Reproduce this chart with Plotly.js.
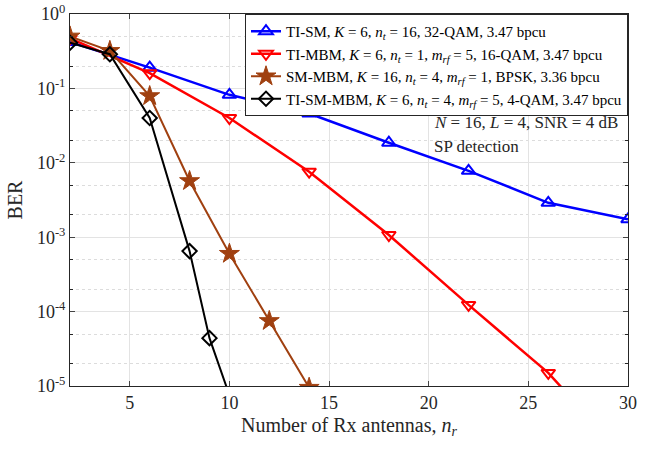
<!DOCTYPE html>
<html>
<head>
<meta charset="utf-8">
<script src="https://cdn.plot.ly/plotly-3.0.1.min.js"></script>
<style>html,body{margin:0;padding:0;background:#fff;}#chart{width:659px;height:449px;}
#chart text{font-family:"Liberation Serif",serif !important;}</style>
</head>
<body>
<div id="chart"></div>
<script>
// Data
const xTISM = [2, 6, 10, 14, 18, 22, 26, 30];
const berTISM = [0.42, 0.19, 0.082, 0.046, 0.0186, 0.0078, 0.0029, 0.00174];

const xTIMBM = [2, 6, 10, 14, 18, 22, 26, 30];
const berTIMBM = [0.47, 0.16, 0.040, 0.0076, 0.00107, 0.000123, 0.000015, 0.000001];

const xSMMBM = [2, 4, 6, 8, 10, 12, 14];
const berSMMBM = [0.50, 0.32, 0.079, 0.0057, 0.0006, 0.000075, 0.0000095];

const xTISMMBM = [2, 4, 6, 8, 9, 10];
const berTISMMBM = [0.41, 0.288, 0.040, 0.00065, 0.000044, 0.0000075];

const names = [
  "TI-SM, <i>K</i> = 6, <i>n</i><sub><i>t</i></sub> = 16, 32-QAM, 3.47 bpcu",
  "TI-MBM, <i>K</i> = 6, <i>n</i><sub><i>t</i></sub> = 1, <i>m</i><sub><i>rf</i></sub> = 5, 16-QAM, 3.47 bpcu",
  "SM-MBM, <i>K</i> = 16, <i>n</i><sub><i>t</i></sub> = 4, <i>m</i><sub><i>rf</i></sub> = 1, BPSK, 3.36 bpcu",
  "TI-SM-MBM, <i>K</i> = 6, <i>n</i><sub><i>t</i></sub> = 4, <i>m</i><sub><i>rf</i></sub> = 5, 4-QAM, 3.47 bpcu"
];

const yTickVals = [1e-5, 1e-4, 1e-3, 1e-2, 1e-1, 1];
const yTickText = ["10<sup>-5</sup>", "10<sup>-4</sup>", "10<sup>-3</sup>", "10<sup>-2</sup>", "10<sup>-1</sup>", "10<sup>0</sup>"];
const xTickVals = [5, 10, 15, 20, 25, 30];
const xTickText = ["5", "10", "15", "20", "25", "30"];

const brown = "rgb(160,64,16)";

const traces = [
  {x: xTISM, y: berTISM, name: names[0], mode: "lines+markers",
   line: {color: "#0000ff", width: 2.5},
   marker: {symbol: "triangle-up-open", size: 12, color: "#0000ff", line: {width: 2, color: "#0000ff"}}},
  {x: xTIMBM, y: berTIMBM, name: names[1], mode: "lines+markers",
   line: {color: "#ff0000", width: 2.5},
   marker: {symbol: "triangle-down-open", size: 12, color: "#ff0000", line: {width: 2, color: "#ff0000"}}},
  {x: xSMMBM, y: berSMMBM, name: names[2], mode: "lines+markers",
   line: {color: brown, width: 2},
   marker: {symbol: "star", size: 15, color: brown, line: {width: 1, color: brown}}},
  {x: xTISMMBM, y: berTISMMBM, name: names[3], mode: "lines+markers",
   line: {color: "#000000", width: 2},
   marker: {symbol: "diamond-open", size: 11, color: "#000000", line: {width: 2, color: "#000000"}}}
];

const serif = "Liberation Serif";

const layout = {
  width: 659, height: 449,
  margin: {l: 70, r: 31, t: 14, b: 63},
  paper_bgcolor: "#fff", plot_bgcolor: "#fff",
  font: {family: serif, color: "#262626", size: 18},
  showlegend: true,
  legend: {
    x: 1, xanchor: "right", y: 1, yanchor: "top",
    bgcolor: "#fff", bordercolor: "#262626", borderwidth: 1,
    font: {family: serif, size: 15, color: "#000"},
    tracegroupgap: 0, itemwidth: 30
  },
  xaxis: {
    range: [2, 30], tickvals: xTickVals, ticktext: xTickText, ticks: "inside", ticklen: 5,
    showline: true, linecolor: "#262626", linewidth: 1, mirror: "ticks",
    showgrid: true, gridcolor: "#e3e3e3", zeroline: false,
    tickfont: {family: serif, size: 18, color: "#262626"},
    title: {text: "Number of Rx antennas, <i>n</i><sub><i>r</i></sub>", font: {family: serif, size: 20, color: "#262626"}, standoff: 6}
  },
  yaxis: {
    type: "log", range: [-5, 0], tickvals: yTickVals, ticktext: yTickText,
    ticks: "inside", ticklen: 5,
    showline: true, linecolor: "#262626", linewidth: 1, mirror: "ticks",
    showgrid: true, gridcolor: "#e3e3e3", zeroline: false,
    minor: {showgrid: true, gridcolor: "#dcdcdc", griddash: "dot", ticks: "inside", ticklen: 3, tickcolor: "#262626"},
    tickfont: {family: serif, size: 18, color: "#262626"},
    title: {text: "BER", font: {family: serif, size: 20, color: "#262626"}, standoff: 8}
  },
  annotations: [
    {xref: "paper", yref: "paper", x: 0.648, y: 0.707, xanchor: "left", yanchor: "middle", showarrow: false,
     text: "<i>N</i> = 16, <i>L</i> = 4, SNR = 4 dB", font: {family: serif, size: 17, color: "#262626"}},
    {xref: "paper", yref: "paper", x: 0.648, y: 0.643, xanchor: "left", yanchor: "middle", showarrow: false,
     text: "SP detection", font: {family: serif, size: 17, color: "#262626"}}
  ]
};

Plotly.newPlot("chart", traces, layout, {displayModeBar: false, staticPlot: true});
</script>
</body>
</html>
